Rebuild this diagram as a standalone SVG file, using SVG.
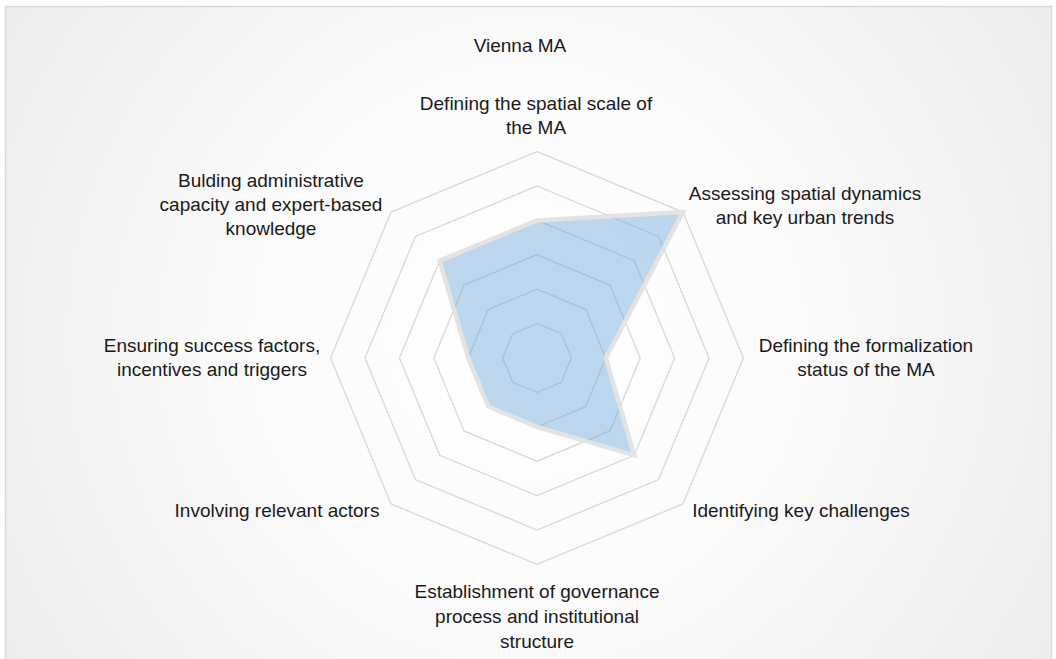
<svg xmlns="http://www.w3.org/2000/svg" width="1056" height="659" viewBox="0 0 1056 659">
  <defs>
    <radialGradient id="bg" cx="528" cy="340" r="620" gradientUnits="userSpaceOnUse">
      <stop offset="0" stop-color="#ffffff"/>
      <stop offset="0.45" stop-color="#fbfbfb"/>
      <stop offset="1" stop-color="#ececec"/>
    </radialGradient>
  </defs>
  <style>
    .lbl { font-family: "Liberation Sans", Arial, sans-serif; font-size: 19px; fill: #1a1a1a; text-anchor: middle; }
    .ring { fill: none; stroke: #d9d9d9; stroke-width: 1.3; }
    .series { fill: #5b9bd5; fill-opacity: 0.4; stroke: #e3e3e3; stroke-width: 4.5; stroke-linejoin: miter; }
  </style>
  <rect x="0" y="0" width="1056" height="659" fill="#ffffff"/>
  <rect id="chart-area" x="5.5" y="6.5" width="1046" height="660" fill="url(#bg)" stroke="#d9d9d9" stroke-width="1.5"/>

  <g id="title"><text class="lbl" x="520" y="52">Vienna MA</text></g>

  <g id="grid">
    <polygon class="ring" points="537,323.6 561.32,333.68 571.4,358 561.32,382.32 537,392.4 512.68,382.32 502.6,358 512.68,333.68"/>
    <polygon class="ring" points="537,289.2 585.65,309.35 605.8,358 585.65,406.65 537,426.8 488.35,406.65 468.2,358 488.35,309.35"/>
    <polygon class="ring" points="537,254.8 609.97,285.03 640.2,358 609.97,430.97 537,461.2 464.03,430.97 433.8,358 464.03,285.03"/>
    <polygon class="ring" points="537,220.4 634.3,260.7 674.6,358 634.3,455.3 537,495.6 439.7,455.3 399.4,358 439.7,260.7"/>
    <polygon class="ring" points="537,186 658.62,236.38 709,358 658.62,479.62 537,530 415.38,479.62 365,358 415.38,236.38"/>
    <polygon class="ring" points="537,151.6 682.95,212.05 743.4,358 682.95,503.95 537,564.4 391.05,503.95 330.6,358 391.05,212.05"/>
  </g>

  <g id="connectors">
    <polygon id="series-vienna" class="series" points="537,220.4 682.95,212.05 605.8,358 634.3,455.3 537,426.8 488.35,406.65 468.2,358 439.7,260.7"/>
  </g>

  <g id="axis-top"><text class="lbl" x="536" y="110">Defining the spatial scale of</text><text class="lbl" x="536" y="134">the MA</text></g>
  <g id="axis-top-right"><text class="lbl" x="805" y="200">Assessing spatial dynamics</text><text class="lbl" x="805" y="224">and key urban trends</text></g>
  <g id="axis-right"><text class="lbl" x="866" y="352">Defining the formalization</text><text class="lbl" x="866" y="376">status of the MA</text></g>
  <g id="axis-bottom-right"><text class="lbl" x="801" y="517">Identifying key challenges</text></g>
  <g id="axis-bottom"><text class="lbl" x="537" y="598">Establishment of governance</text><text class="lbl" x="537" y="623">process and institutional</text><text class="lbl" x="537" y="648">structure</text></g>
  <g id="axis-bottom-left"><text class="lbl" x="277" y="517">Involving relevant actors</text></g>
  <g id="axis-left"><text class="lbl" x="212" y="352">Ensuring success factors,</text><text class="lbl" x="212" y="376">incentives and triggers</text></g>
  <g id="axis-top-left"><text class="lbl" x="271" y="187">Bulding administrative</text><text class="lbl" x="271" y="211">capacity and expert-based</text><text class="lbl" x="271" y="235">knowledge</text></g>
</svg>
